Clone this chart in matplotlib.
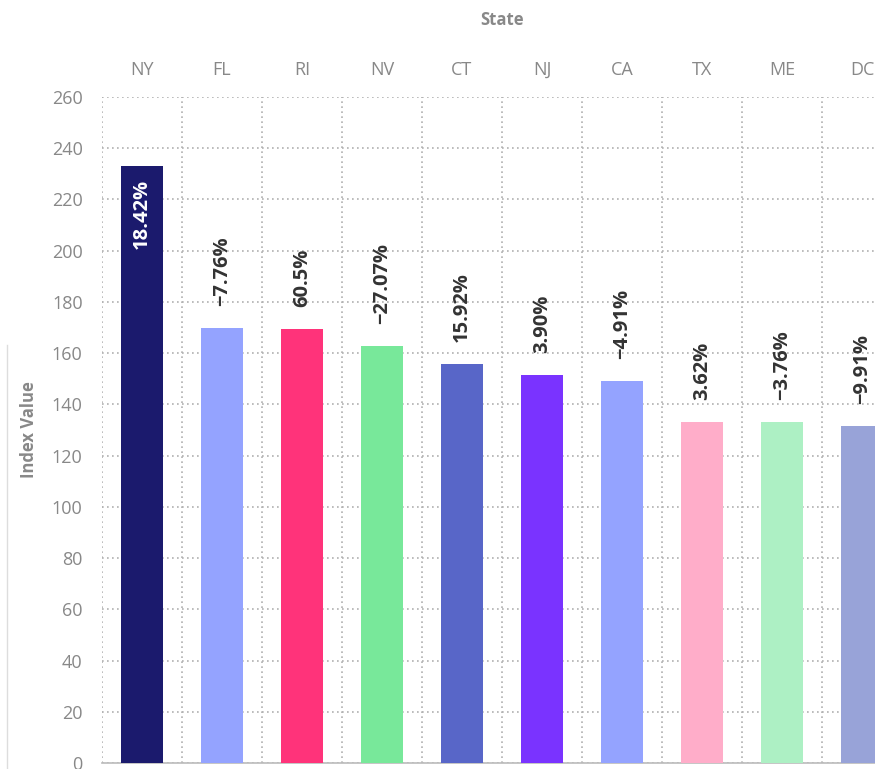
import matplotlib.pyplot as plt
import numpy as np
from matplotlib.ticker import FixedLocator
from matplotlib.lines import Line2D

states = ["NY", "FL", "RI", "NV", "CT", "NJ", "CA", "TX", "ME", "DC"]
values = [233.1, 169.8, 169.4, 162.8, 155.8, 151.5, 149.1, 133.1, 133.1, 131.6]
changes = ["18.42%", "\u22127.76%", "60.5%", "\u221227.07%", "15.92%", "3.90%",
           "\u22124.91%", "3.62%", "\u22123.76%", "\u22129.91%"]
colors = ["#1b1a6d", "#94a3ff", "#ff337a", "#78e89a", "#5866c8", "#7a33ff",
          "#94a3ff", "#ffadc9", "#adf0c4", "#98a3d8"]

plt.rcParams['font.family'] = ['Open Sans', 'DejaVu Sans']

fig = plt.figure(figsize=(8.75, 7.69), dpi=100)
W, H = 875, 769
ax = fig.add_axes([102 / W, 6 / H, 800 / W, 666 / H])

x = np.arange(len(states))
ax.bar(x, values, width=0.53, color=colors, zorder=3)

ax.set_xlim(-0.5, len(states) - 0.5)
ax.set_ylim(0, 260)
ax.set_yticks(np.arange(0, 261, 20))
ax.set_xticks(x)
ax.set_xticklabels(states)
ax.xaxis.set_minor_locator(FixedLocator(np.arange(-0.5, len(states), 1.0)))
ax.xaxis.tick_top()
ax.xaxis.set_label_position('top')
ax.tick_params(axis='x', which='both', length=0, pad=13, labelsize=13, colors='#888888')
ax.tick_params(axis='y', length=0, pad=14, labelsize=13, colors='#888888')

ax.grid(axis='y', which='major', linestyle=(0, (1, 2)), color='#b0b0b0', linewidth=1.2, zorder=0)
ax.grid(axis='x', which='minor', linestyle=(0, (1, 2)), color='#b0b0b0', linewidth=1.2, zorder=0)
ax.grid(axis='x', which='major', visible=False)

for s in ['top', 'right', 'left']:
    ax.spines[s].set_visible(False)
ax.spines['bottom'].set_color('#bbbbbb')
ax.spines['bottom'].set_linewidth(1.2)

ax.set_xlabel('State', fontsize=12, fontweight='bold', color='#888888', labelpad=26)
ax.set_ylabel('Index Value', fontsize=12, fontweight='bold', color='#888888', labelpad=10)

fig.add_artist(Line2D([7 / W, 7 / W], [0, 1 - 345 / H], color='#dddddd', linewidth=1))

for i, (v, t) in enumerate(zip(values, changes)):
    if i == 0:
        ax.annotate(t, (i, v), xytext=(0, -9), textcoords='offset points',
                    rotation=90, ha='center', va='top', fontsize=14.5,
                    fontweight='bold', color='white', zorder=4)
    else:
        ax.annotate(t, (i, v), xytext=(0, 16), textcoords='offset points',
                    rotation=90, ha='center', va='bottom', fontsize=14.5,
                    fontweight='bold', color='#333333', zorder=4)

fig.savefig('out.png', dpi=100)
